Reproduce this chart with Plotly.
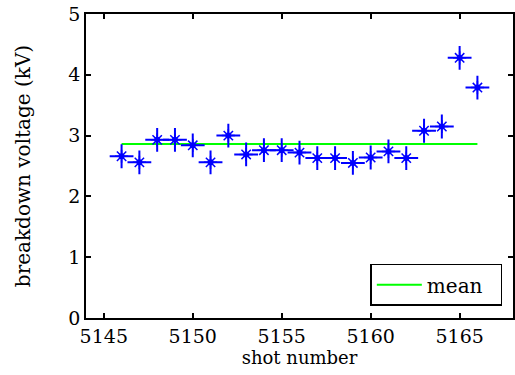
import plotly.graph_objects as go

shot = [5146, 5147, 5148, 5149, 5150, 5151, 5152, 5153, 5154, 5155, 5156,
        5157, 5158, 5159, 5160, 5161, 5162, 5163, 5164, 5165, 5166]
voltage = [2.66, 2.56, 2.93, 2.93, 2.84, 2.56, 3.00, 2.69, 2.76, 2.76, 2.72,
           2.63, 2.63, 2.55, 2.64, 2.74, 2.63, 3.08, 3.15, 4.28, 3.79]
mean_value = 2.86
x_ticks = [5145, 5150, 5155, 5160, 5165]
y_ticks = [0, 1, 2, 3, 4, 5]

FONT = "DejaVu Serif"

fig = go.Figure()
fig.add_trace(go.Scatter(
    x=[shot[0], shot[-1]], y=[mean_value, mean_value], mode="lines",
    line=dict(color="#00ff00", width=2), name="mean\u00a0\u00a0", showlegend=True))
fig.add_trace(go.Scatter(
    x=shot, y=voltage, mode="markers", showlegend=False,
    marker=dict(symbol="cross-thin-open", size=17, color="#0000ff",
                line=dict(color="#0000ff", width=2))))
fig.add_trace(go.Scatter(
    x=shot, y=voltage, mode="markers", showlegend=False,
    marker=dict(symbol="asterisk-open", size=11, color="#0000ff",
                line=dict(color="#0000ff", width=1.5))))
fig.add_trace(go.Scatter(
    x=shot, y=voltage, mode="markers", showlegend=False,
    marker=dict(symbol="circle", size=6, color="#0000ff")))

axis_common = dict(
    showline=True, linecolor="black", linewidth=1.5, mirror="ticks",
    ticks="inside", ticklen=5, tickwidth=1.5, tickcolor="black",
    showgrid=False, zeroline=False,
    tickfont=dict(family=FONT, size=19, color="black"))

fig.update_xaxes(range=[5144, 5168], tickvals=x_ticks,
                 title=dict(text="shot number", font=dict(family=FONT, size=18, color="black"),
                            standoff=2),
                 **axis_common)
fig.update_yaxes(range=[0, 5], tickvals=y_ticks,
                 title=dict(text="breakdown voltage (kV)",
                            font=dict(family=FONT, size=20, color="black"), standoff=32),
                 **axis_common)

fig.update_layout(
    width=515, height=375,
    margin=dict(l=86, r=0, t=14, b=57),
    plot_bgcolor="white", paper_bgcolor="white",
    font=dict(family=FONT, color="black"),
    legend=dict(x=0.975, y=0.04, xanchor="right", yanchor="bottom",
                bgcolor="white", bordercolor="black", borderwidth=1.5,
                font=dict(family=FONT, size=20, color="black"),
                itemwidth=45),
)

fig.write_html("out.html")
